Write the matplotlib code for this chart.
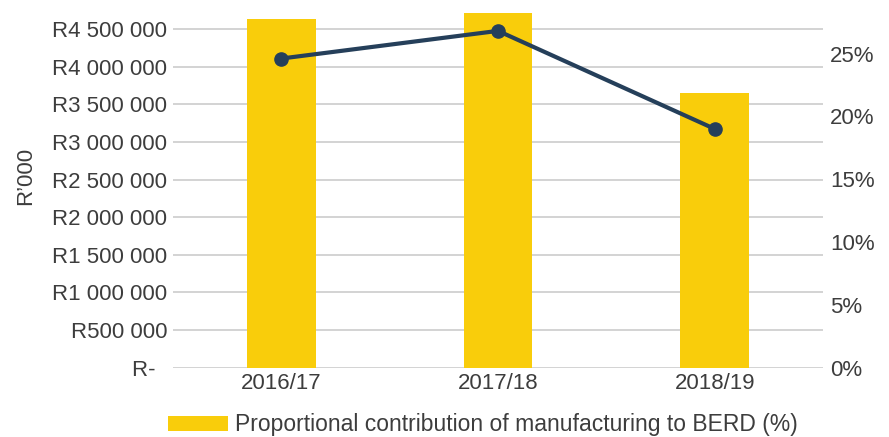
import matplotlib
matplotlib.use("Agg")
import matplotlib.pyplot as plt
from matplotlib.patches import Patch

# Data
years = ["2016/17", "2017/18", "2018/19"]
berd_manufacturing = [4637000, 4717000, 3653000]      # R'000
share_pct = [24.6, 26.8, 19.0]                          # %
left_ticks = [0, 500000, 1000000, 1500000, 2000000, 2500000, 3000000, 3500000, 4000000, 4500000]
left_labels = ["R-  ", "R500 000", "R1 000 000", "R1 500 000", "R2 000 000",
               "R2 500 000", "R3 000 000", "R3 500 000", "R4 000 000", "R4 500 000"]
right_ticks = [0, 5, 10, 15, 20, 25]
right_labels = ["0%", "5%", "10%", "15%", "20%", "25%"]
legend_label = "Proportional contribution of manufacturing to BERD (%)"

YELLOW = "#f9cd0b"
NAVY = "#253f5a"
TEXT = "#3d3d3d"
GRID = "#cccccc"
FS = 16

plt.rcParams["font.family"] = ["Liberation Sans", "DejaVu Sans"]

W, H = 889, 437
fig = plt.figure(figsize=(W / 100, H / 100), dpi=100)

x0, x1 = 173, 823
y_bottom, y_top = 367.7, 0
ax = fig.add_axes([x0 / W, 1 - y_bottom / H, (x1 - x0) / W, (y_bottom - y_top) / H])

px_per_unit_left = (367.7 - 29.3) / 4500000
px_per_pct = (367.7 - 53.5) / 25

ax.set_xlim(-0.5, 2.5)
ax.set_ylim(0, (y_bottom - y_top) / px_per_unit_left)

xs = range(len(years))
ax.bar(xs, berd_manufacturing, width=0.317, color=YELLOW, zorder=2)

ax.set_yticks(left_ticks)
ax.set_yticklabels(left_labels)
ax.grid(axis="y", color=GRID, linewidth=1.2, zorder=0)
ax.set_axisbelow(True)
ax.set_xticks(list(xs))
ax.set_xticklabels(years)
ax.tick_params(axis="both", length=0, labelsize=FS, labelcolor=TEXT)
ax.tick_params(axis="y", pad=4)
ax.tick_params(axis="x", pad=4)
for s in ax.spines.values():
    s.set_visible(False)
ax.set_ylabel("R\u2019000", fontsize=FS, color=TEXT)
ax.yaxis.set_label_coords(-0.211, 0.521)

ax2 = ax.twinx()
ax2.set_ylim(0, (y_bottom - y_top) / px_per_pct)
ax2.plot(list(xs), share_pct, color=NAVY, linewidth=3.0, marker="o",
         markersize=9.5, zorder=3)
ax2.set_yticks(right_ticks)
ax2.set_yticklabels(right_labels)
ax2.tick_params(axis="y", length=0, labelsize=FS, labelcolor=TEXT, pad=5)
for s in ax2.spines.values():
    s.set_visible(False)

handle = Patch(facecolor=YELLOW, edgecolor="none")
fig.legend([handle], [legend_label], loc="center", bbox_to_anchor=(483 / W, 1 - 425 / H),
           frameon=False, fontsize=16.5, labelcolor=TEXT, handlelength=2.6,
           handleheight=0.6, handletextpad=0.3, borderpad=0)

fig.savefig("out.png", dpi=100)
